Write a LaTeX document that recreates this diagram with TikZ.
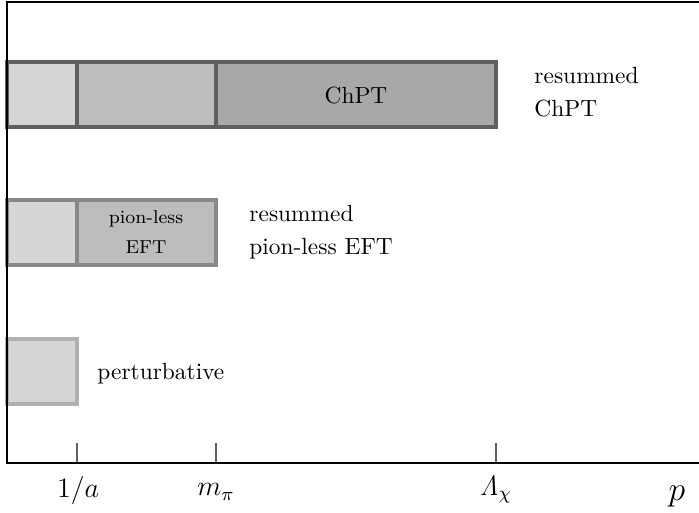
\documentclass[tikz,border=0pt]{standalone}
\begin{document}
\begin{tikzpicture}[x=0.4275pt,y=-0.4275pt,
  cellA/.style={fill=light, draw=#1, line width=1.3pt},
  cellB/.style={fill=mid, draw=#1, line width=1.3pt},
  cellC/.style={fill=dark, draw=#1, line width=1.3pt},
  frameline/.style={line width=0.9pt, black},
  tick/.style={line width=0.9pt, draw=tickgray},
  lbl/.style={inner sep=0pt, align=left, anchor=west},
  axlbl/.style={inner sep=0pt, font=\large}]
\definecolor{light}{HTML}{D6D6D6}
\definecolor{mid}{HTML}{BDBDBD}
\definecolor{dark}{HTML}{A8A8A8}
\definecolor{edgeA}{HTML}{5F5F5F}
\definecolor{edgeB}{HTML}{888888}
\definecolor{edgeC}{HTML}{B0B0B0}
\definecolor{tickgray}{HTML}{606060}
\useasboundingbox (0,0) rectangle (699,512);

% upper row: full chiral range
\draw[cellA=edgeA] (7,62) rectangle (77,127);
\draw[cellB=edgeA] (77,62) rectangle (216,127);
\draw[cellC=edgeA] (216,62) rectangle (496,127);
\node (chpt) at (356,95) {ChPT};
\node[lbl] (resChpt) at (534,92) {resummed\\[2pt]ChPT};

% middle row: pion-less range
\draw[cellA=edgeB] (7,200) rectangle (77,265);
\draw[cellB=edgeB] (77,200) rectangle (216,265);
\node[align=center, font=\footnotesize] (pionless) at (146,232) {pion-less\\[3.5pt]EFT};
\node[lbl] (resPionless) at (249,232) {resummed\\[2pt]pion-less EFT};

% lower row: perturbative range
\draw[cellA=edgeC] (7,339) rectangle (77,404);
\node[lbl] (pert) at (97,374) {perturbative};

% momentum scales
\coordinate (ta) at (77,463);
\coordinate (tm) at (216,463);
\coordinate (tl) at (496,463);
\draw[tick] (ta) -- ++(0,-20);
\draw[tick] (tm) -- ++(0,-20);
\draw[tick] (tl) -- ++(0,-20);
\node[axlbl] (la) at (78,490) {$1/a$};
\node[axlbl] (lm) at (216,492) {$m_\pi$};
\node[axlbl] (ll) at (496,490) {$\mathit{\Lambda}_\chi$};
\node[axlbl, font=\Large] (lp) at (677,497) {$p$};

% frame and momentum axis
\draw[frameline] (699,2) -- (7,2) -- (7,463) -- (699,463);
\end{tikzpicture}
\end{document}
